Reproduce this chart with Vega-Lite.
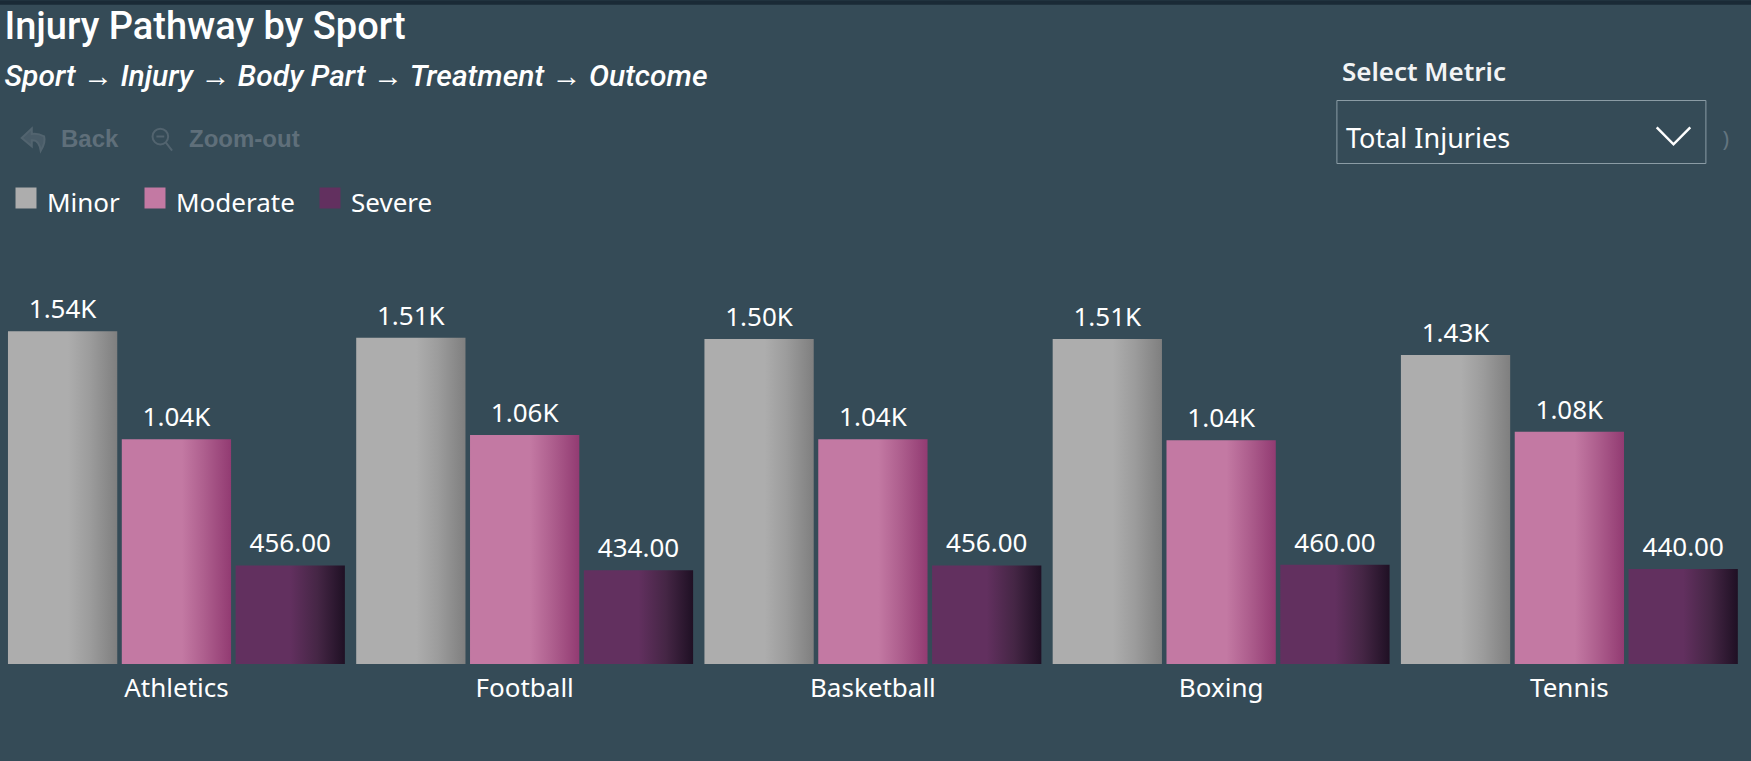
{
"$schema":"https://vega.github.io/schema/vega-lite/v6.json",
"width":1741,"height":564,
"autosize":{"type":"none"},
"padding":{"left":2.4,"top":100,"right":7.6,"bottom":97},
"background":"#354b57",
"title":{"text":"Injury Pathway by Sport","subtitle":"Sport → Injury → Body Part → Treatment → Outcome","anchor":"start","frame":"group","offset":-92.7,"dx":2,"font":"Roboto","fontSize":38,"fontWeight":500,"color":"#ffffff","subtitleFont":"Roboto","subtitleFontSize":30,"subtitleFontStyle":"italic","subtitleFontWeight":500,"subtitleColor":"#ffffff","subtitlePadding":15},
"config":{"view":{"stroke":null},"font":"Noto Sans"},
"datasets":{"bars":[
{"sport":"Athletics","severity":"Minor","injuries":1540,"label":"1.54K"},
{"sport":"Athletics","severity":"Moderate","injuries":1040,"label":"1.04K"},
{"sport":"Athletics","severity":"Severe","injuries":456,"label":"456.00"},
{"sport":"Football","severity":"Minor","injuries":1510,"label":"1.51K"},
{"sport":"Football","severity":"Moderate","injuries":1060,"label":"1.06K"},
{"sport":"Football","severity":"Severe","injuries":434,"label":"434.00"},
{"sport":"Basketball","severity":"Minor","injuries":1504,"label":"1.50K"},
{"sport":"Basketball","severity":"Moderate","injuries":1040,"label":"1.04K"},
{"sport":"Basketball","severity":"Severe","injuries":456,"label":"456.00"},
{"sport":"Boxing","severity":"Minor","injuries":1505,"label":"1.51K"},
{"sport":"Boxing","severity":"Moderate","injuries":1036,"label":"1.04K"},
{"sport":"Boxing","severity":"Severe","injuries":460,"label":"460.00"},
{"sport":"Tennis","severity":"Minor","injuries":1430,"label":"1.43K"},
{"sport":"Tennis","severity":"Moderate","injuries":1075,"label":"1.08K"},
{"sport":"Tennis","severity":"Severe","injuries":440,"label":"440.00"}
]},
"encoding":{
"x":{"field":"sport","type":"nominal","sort":["Athletics","Football","Basketball","Boxing","Tennis"],"scale":{"paddingInner":0.0325,"paddingOuter":0.016},
"axis":{"title":")","titleX":1723,"titleY":-535,"titleAngle":0,"titleFont":"Noto Sans","titleFontSize":22,"titleFontWeight":"normal","titleColor":"#62747f","labelAngle":0,"labelFontSize":26,"labelColor":"#ffffff","labelFont":"Noto Sans","labelPadding":11,"domain":false,"ticks":false,"grid":false}},
"xOffset":{"field":"severity","type":"nominal","sort":["Minor","Moderate","Severe"],"scale":{"domain":["Minor","Moderate","Severe"],"paddingInner":0.04}},
"y":{"field":"injuries","type":"quantitative","scale":{"domain":[0,2611]},
"axis":{"title":"Select Metric","titleX":-409.6,"titleY":-20,"titleAngle":0,"titleAlign":"left","titleBaseline":"alphabetic","titleFont":"Noto Sans","titleFontSize":26,"titleFontWeight":600,"titleColor":"#f2f4f5","labels":false,"ticks":true,"values":[2611],"tickOffset":-98,"offset":-1748.6,"tickSize":1752,"tickWidth":4.5,"tickColor":"#1a2a36","domain":false,"grid":false}}
},
"layer":[
{"data":{"name":"bars"},"transform":[{"filter":"datum.severity==='Minor'"}],
"mark":{"type":"bar","color":{"gradient":"linear","x1":0,"x2":1,"y1":0,"y2":0,"stops":[{"offset":0,"color":"#adadad"},{"offset":0.55,"color":"#adadad"},{"offset":0.75,"color":"#9c9c9c"},{"offset":1,"color":"#7f7f7f"}]}}},
{"data":{"name":"bars"},"transform":[{"filter":"datum.severity==='Moderate'"}],
"mark":{"type":"bar","color":{"gradient":"linear","x1":0,"x2":1,"y1":0,"y2":0,"stops":[{"offset":0,"color":"#c379a3"},{"offset":0.55,"color":"#c379a3"},{"offset":0.75,"color":"#ae5f8e"},{"offset":1,"color":"#923b72"}]}}},
{"data":{"name":"bars"},"transform":[{"filter":"datum.severity==='Severe'"}],
"mark":{"type":"bar","color":{"gradient":"linear","x1":0,"x2":1,"y1":0,"y2":0,"stops":[{"offset":0,"color":"#62305f"},{"offset":0.5,"color":"#62305f"},{"offset":0.75,"color":"#452645"},{"offset":1,"color":"#1f1024"}]}}},
{"data":{"name":"bars"},
"mark":{"type":"text","baseline":"alphabetic","dy":-13,"fontSize":26,"font":"Noto Sans","color":"#ffffff"},
"encoding":{"text":{"field":"label","type":"nominal"}}},
{"data":{"values":[{"severity":"Minor"},{"severity":"Moderate"},{"severity":"Severe"}]},
"mark":{"type":"point","size":0,"filled":true},
"encoding":{"x":null,"y":null,"xOffset":null,
"color":{"field":"severity","type":"nominal","scale":{"domain":["Minor","Moderate","Severe"],"range":["#adadad","#c379a3","#62305f"]},
"legend":{"title":null,"orient":"none","legendX":10.6,"legendY":85,"direction":"horizontal","symbolType":"square","symbolSize":441,"symbolStrokeWidth":0,"symbolOpacity":1,"labelFontSize":26,"labelColor":"#ffffff","labelFont":"Noto Sans","labelOffset":8,"columnPadding":22,"encode":{"labels":{"update":{"dy":{"value":6}}}}}}
}},
{"data":{"values":[{"tool":"Back"},{"tool":"Zoom-out"}]},
"mark":{"type":"point","size":0},
"encoding":{"x":null,"y":null,"xOffset":null,
"fill":{"field":"tool","type":"nominal","scale":{"domain":["Back","Zoom-out"],"range":["#5f6f7a","transparent"]},"legend":{"title":null}},
"stroke":{"field":"tool","type":"nominal","scale":{"domain":["Back","Zoom-out"],"range":["#5f6f7a","#5f6f7a"]},"legend":{"title":null}},
"shape":{"field":"tool","type":"nominal","scale":{"domain":["Back","Zoom-out"],"range":["M1,-0.3 C0.6,-0.5 0.2,-0.55 -0.1,-0.5 L-0.1,-1 L-1,-0.15 L-0.1,0.6 L-0.1,0.05 C0.3,0 0.6,0.3 0.7,1 C1,0.5 1.1,0 1,-0.3 Z","M-0.05,-1 A0.7,0.7 0 1 0 -0.05,0.4 A0.7,0.7 0 1 0 -0.05,-1 M-0.4,-0.3 L0.3,-0.3 M0.45,0.25 L1,0.95"]},
"legend":{"title":null,"orient":"none","legendX":18,"legendY":27,"direction":"horizontal","symbolSize":500,"symbolStrokeWidth":2,"labelFontSize":24,"labelFontWeight":600,"labelColor":"#5f6f7a","labelFont":"Liberation Sans","labelOffset":15.6,"columnPadding":30}}
}},
{"data":{"values":[{"metric":"Total Injuries"}]},
"mark":{"type":"point","size":0},
"encoding":{"x":null,"y":null,"xOffset":null,
"opacity":{"field":"metric","type":"nominal","scale":{"range":[1]},
"legend":{"title":null,"orient":"none","legendX":1334,"legendY":0,"symbolType":"M-0.2,-0.43 L0.4,0.17 L1,-0.43","symbolSize":3136,"symbolStrokeColor":"#ffffff","symbolFillColor":"transparent","symbolStrokeWidth":2.5,"symbolOffset":286.4,"labelOffset":-345.8,"labelLimit":260,"labelFontSize":27,"labelColor":"#ffffff","labelFont":"Noto Sans","padding":10,"strokeColor":"#8b9ca5","encode":{"legend":{"update":{"strokeWidth":{"value":3}}},"labels":{"update":{"dy":{"value":6},"dx":{"value":-2}}}}}}
}}
]
}
